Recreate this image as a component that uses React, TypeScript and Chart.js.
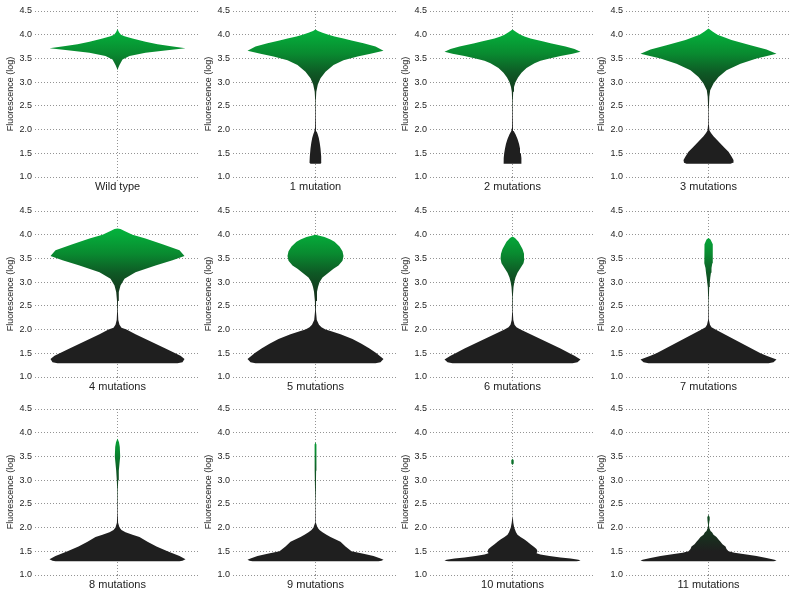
import React, { useEffect, useRef } from 'react';
import { Chart, registerables } from 'chart.js';

Chart.register(...registerables);

// ---- Data: [fluorescence (log), relative half-width density] ----
const panelLabels = [
  'Wild type', '1 mutation', '2 mutations', '3 mutations',
  '4 mutations', '5 mutations', '6 mutations', '7 mutations',
  '8 mutations', '9 mutations', '10 mutations', '11 mutations',
];
const fluorescenceTicks = [1.0, 1.5, 2.0, 2.5, 3.0, 3.5, 4.0, 4.5];

const wildType = [
  [3.25, 0], [3.3, 0.7], [3.36, 2], [3.42, 3.5], [3.48, 5], [3.55, 12], [3.62, 28], [3.68, 52],
  [3.715, 68], [3.76, 52], [3.8, 40], [3.85, 28], [3.92, 15], [3.97, 7], [4.0, 3.5], [4.05, 1.5], [4.12, 0],
];
const mut1 = [
  [1.28, 5], [1.3, 6], [1.43, 5.7], [1.6, 5], [1.72, 4.2], [1.82, 3.3], [1.9, 2.2], [1.96, 1.2], [2.05, 0.5],
  [2.3, 0.25], [2.6, 0.3], [2.8, 0.8], [2.95, 2.3], [3.08, 5], [3.22, 10], [3.36, 18], [3.46, 28], [3.54, 42],
  [3.6, 55], [3.66, 68], [3.75, 60], [3.82, 48], [3.88, 36], [3.92, 28], [3.96, 19], [4.0, 13], [4.04, 7],
  [4.08, 2.5], [4.11, 0],
];
const mut2 = [
  [1.28, 8.7], [1.3, 9], [1.4, 8.8], [1.5, 8.3], [1.6, 7.5], [1.7, 6.5], [1.8, 5], [1.9, 3], [1.97, 1.2],
  [2.05, 0.5], [2.3, 0.25], [2.6, 0.3], [2.8, 0.7], [2.9, 1.5], [3.0, 3], [3.1, 5.5], [3.2, 9], [3.3, 14],
  [3.4, 22], [3.45, 28], [3.5, 37], [3.55, 48], [3.6, 60], [3.64, 68], [3.7, 62], [3.75, 53], [3.82, 38],
  [3.85, 32], [3.92, 18], [3.96, 12], [4.0, 8], [4.05, 4], [4.11, 0],
];
const mut3 = [
  [1.28, 22], [1.3, 24.5], [1.36, 25], [1.43, 23], [1.53, 20], [1.64, 15], [1.75, 10], [1.86, 5],
  [1.93, 2.5], [1.98, 1], [2.1, 0.4], [2.4, 0.25], [2.69, 0.8], [2.83, 1.7], [2.97, 5], [3.11, 10],
  [3.25, 18], [3.39, 32], [3.5, 48], [3.6, 68], [3.69, 58], [3.78, 42], [3.89, 23], [4.0, 9], [4.07, 4], [4.13, 0],
];
const mut4 = [
  [1.29, 60], [1.31, 65], [1.38, 67], [1.45, 63], [1.6, 48], [1.7, 38], [1.8, 28], [1.9, 18], [2.0, 9],
  [2.04, 4], [2.1, 2], [2.2, 0.8], [2.4, 0.35], [2.6, 0.5], [2.79, 1.3], [2.93, 3], [3.07, 7], [3.21, 18],
  [3.35, 38], [3.46, 55], [3.55, 67], [3.67, 62], [3.8, 45], [3.92, 28], [4.0, 15], [4.08, 7], [4.12, 3], [4.13, 0],
];
const mut5 = [
  [1.29, 60], [1.31, 65], [1.38, 68], [1.45, 64], [1.5, 61], [1.6, 54], [1.7, 46], [1.8, 37], [1.9, 25],
  [1.97, 15], [2.0, 10], [2.05, 6], [2.1, 3.5], [2.2, 1.3], [2.4, 0.4], [2.6, 0.6], [2.8, 1.5], [2.9, 2.5],
  [3.0, 4], [3.1, 7], [3.2, 13], [3.28, 18], [3.35, 23], [3.45, 27], [3.55, 28], [3.65, 27], [3.75, 24],
  [3.85, 19], [3.9, 15], [3.95, 9], [3.98, 4], [4.0, 0],
];
const mut6 = [
  [1.29, 60], [1.31, 65], [1.37, 68], [1.45, 62], [1.5, 57], [1.6, 48], [1.7, 38], [1.8, 28], [1.9, 18],
  [2.0, 8], [2.05, 4], [2.1, 2], [2.2, 0.8], [2.4, 0.25], [2.7, 0.35], [2.9, 1], [3.0, 1.8], [3.1, 3], [3.2, 5],
  [3.3, 8], [3.4, 11], [3.5, 12], [3.6, 11.5], [3.7, 10], [3.85, 6], [3.93, 2.5], [3.96, 0],
];
const mut7 = [
  [1.29, 60], [1.31, 65], [1.37, 68], [1.45, 58], [1.5, 52], [1.6, 43], [1.7, 34], [1.8, 25], [1.9, 16],
  [2.0, 7], [2.05, 3], [2.1, 1.5], [2.2, 0.4], [2.6, 0.25], [2.9, 0.7], [3.0, 1.3], [3.1, 1.8], [3.2, 2.5],
  [3.3, 3], [3.4, 3.8], [3.5, 4.3], [3.65, 4.5], [3.8, 4], [3.9, 2], [3.93, 0],
];
const mut8 = [
  [1.29, 62], [1.3, 65], [1.33, 68], [1.4, 62], [1.5, 50], [1.6, 39], [1.7, 30], [1.8, 22], [1.85, 15],
  [1.9, 8], [1.95, 4], [2.0, 2], [2.1, 0.6], [2.3, 0.25], [2.8, 0.3], [3.0, 0.7], [3.2, 1.3], [3.35, 2],
  [3.5, 2.7], [3.7, 2.3], [3.8, 1.5], [3.88, 0],
];
const mut9 = [
  [1.29, 63], [1.3, 66], [1.32, 68], [1.35, 65], [1.4, 58], [1.45, 48], [1.5, 36], [1.6, 30], [1.7, 25],
  [1.8, 15], [1.85, 11], [1.9, 7], [1.95, 4], [2.0, 2], [2.1, 0.4], [2.5, 0.2], [3.2, 0.6], [3.3, 0.9],
  [3.5, 1], [3.75, 0.9], [3.8, 0],
];
const mut10 = [
  [1.29, 64], [1.3, 68], [1.32, 66], [1.35, 58], [1.37, 48], [1.4, 37], [1.43, 28], [1.46, 24], [1.5, 25],
  [1.55, 24], [1.6, 21], [1.65, 18], [1.7, 15], [1.75, 12], [1.8, 8], [1.85, 5], [1.9, 3.5], [2.0, 1.7],
  [2.1, 0.8], [2.2, 0.4], [2.25, 0], [3.32, 0], [3.35, 1.2], [3.42, 1.2], [3.45, 0],
];
const mut11 = [
  [1.29, 65], [1.3, 68], [1.32, 66], [1.36, 58], [1.4, 48], [1.43, 38], [1.47, 26], [1.5, 20], [1.55, 18],
  [1.6, 17], [1.65, 14], [1.7, 12], [1.75, 10], [1.8, 8], [1.85, 5], [1.9, 3.5], [1.93, 2], [1.98, 1],
  [2.05, 0.4], [2.15, 1], [2.22, 1.2], [2.27, 0],
];

const profiles = [wildType, mut1, mut2, mut3, mut4, mut5, mut6, mut7, mut8, mut9, mut10, mut11];
const greenShift = [0, 0, 0, 0, 0, 0, 0, 0, 0, 0, 0, 0.8];

// ---- Style ----
const FONT = 'Helvetica, Arial, "Liberation Sans", sans-serif';
const colorStops: [number, string][] = [
  [2.3, '#1f1f1f'], [2.8, '#143a1e'], [3.2, '#0e5a25'], [3.6, '#098a30'], [4.0, '#05ab3a'], [4.5, '#00c242'],
];
const X_RANGE = 82.5;
const colLeft = [0, 198, 395, 591];
const rowTop = [0, 200, 398];
const BOX_W = 200;
const BOX_H = 198;

function violinFill(chart: any, shift: number) {
  const area = chart.chartArea;
  const ys = chart.scales && chart.scales.y;
  if (!area || !ys) return '#1f1f1f';
  const lo = colorStops[0][0];
  const hi = colorStops[colorStops.length - 1][0];
  const g = chart.ctx.createLinearGradient(0, ys.getPixelForValue(lo - shift), 0, ys.getPixelForValue(hi - shift));
  for (const [v, c] of colorStops) g.addColorStop((v - lo) / (hi - lo), c);
  return g;
}

function Violin({ index }: { index: number }) {
  const ref = useRef<HTMLCanvasElement>(null);
  const r = Math.floor(index / 4);
  const c = index % 4;
  useEffect(() => {
    const profile = profiles[index];
    const right = profile.map(([v, w]) => ({ x: w, y: v }));
    const left = [...profile].reverse().map(([v, w]) => ({ x: -w, y: v }));
    const shift = greenShift[index];
    const chart = new Chart(ref.current as HTMLCanvasElement, {
      type: 'line',
      data: {
        datasets: [
          {
            data: [...right, ...left],
            fill: 'shape',
            tension: 0,
            borderWidth: 0,
            borderColor: 'rgba(0,0,0,0)',
            pointRadius: 0,
            backgroundColor: (ctx: any) => violinFill(ctx.chart, shift),
          } as any,
        ],
      },
      options: {
        animation: false,
        responsive: false,
        events: [],
        layout: { padding: { top: 11, left: 0, right: 0, bottom: 0 } },
        plugins: { legend: { display: false }, tooltip: { enabled: false } },
        scales: {
          x: {
            type: 'linear',
            min: -X_RANGE,
            max: X_RANGE,
            z: 1,
            afterBuildTicks: (s: any) => { s.ticks = [{ value: 0 }]; },
            afterFit: (s: any) => { s.height = 21; },
            ticks: { display: false },
            grid: { color: 'rgba(0,0,0,0.42)', lineWidth: 1, drawTicks: true, tickLength: 5, tickBorderDash: [1, 2] },
            border: { display: false, dash: [1, 2] },
            title: {
              display: true,
              text: panelLabels[index],
              color: '#222',
              font: { family: FONT, size: 11 },
              padding: { top: 0, bottom: 4 },
            },
          },
          y: {
            type: 'linear',
            min: 1,
            max: 4.5,
            afterBuildTicks: (s: any) => { s.ticks = fluorescenceTicks.map((v) => ({ value: v })); },
            afterFit: (s: any) => { s.width = 35; },
            ticks: {
              callback: (v: any) => Number(v).toFixed(1),
              color: '#222',
              font: { family: FONT, size: 9 },
              padding: 3,
            },
            grid: { color: 'rgba(0,0,0,0.42)', lineWidth: 1, drawTicks: false },
            border: { display: false, dash: [1, 2] },
            title: {
              display: true,
              text: 'Fluorescence (log)',
              color: '#222',
              font: { family: FONT, size: 9 },
              padding: { top: 5, bottom: 0 },
            },
          },
        },
      } as any,
    });
    return () => chart.destroy();
  }, [index]);
  return (
    <canvas
      ref={ref}
      width={BOX_W}
      height={BOX_H}
      style={{ position: 'absolute', left: colLeft[c], top: rowTop[r], width: BOX_W, height: BOX_H }}
    />
  );
}

export default function App() {
  return (
    <div style={{ position: 'absolute', left: 0, top: 0, width: 800, height: 598, background: '#fff' }}>
      {panelLabels.map((_, i) => (
        <Violin key={i} index={i} />
      ))}
    </div>
  );
}
